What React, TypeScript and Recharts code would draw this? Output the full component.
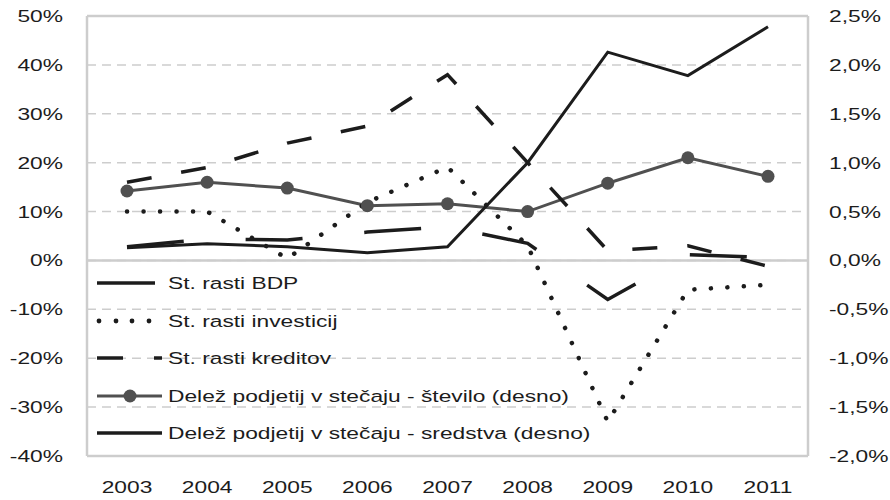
import { LineChart, Line, XAxis, YAxis, CartesianGrid, ReferenceLine } from "recharts";

const years = ["2003", "2004", "2005", "2006", "2007", "2008", "2009", "2010", "2011"];
// left axis (%)
const rastBdp = [2.8, 4.4, 4.2, 5.8, 6.9, 3.5, -8.0, 1.2, 0.6];
const rastInvesticij = [10, 10, 0.4, 11.9, 19.1, 3.0, -33, -6, -5];
const rastKreditov = [16, 19, 24, 27.5, 38, 20, 2, 3, -1.2];
// right axis (%)
const stecajStevilo = [0.71, 0.8, 0.74, 0.56, 0.58, 0.5, 0.79, 1.05, 0.86];
const stecajSredstva = [0.13, 0.17, 0.14, 0.08, 0.14, 1.0, 2.13, 1.89, 2.39];

const leftTicks = [-40, -30, -20, -10, 0, 10, 20, 30, 40, 50];
const rightTicks = [-2, -1.5, -1, -0.5, 0, 0.5, 1, 1.5, 2, 2.5];

const legendLabels = [
  "St. rasti BDP",
  "St. rasti investicij",
  "St. rasti kreditov",
  "Delež podjetij v stečaju - število (desno)",
  "Delež podjetij v stečaju - sredstva (desno)",
];

const data = years.map((year, i) => ({
  year,
  bdp: rastBdp[i],
  inv: rastInvesticij[i],
  kred: rastKreditov[i],
  stevilo: stecajStevilo[i],
  sredstva: stecajSredstva[i],
}));

const FONT = '"Liberation Sans", Arial, sans-serif';
const SX = 1.34;
const INK = "#1c1c1c";
const GREY = "#505050";
const FRAME = "#cdcdcd";

const fmtLeft = (v: number) => `${v}%`;
const fmtRight = (v: number) => `${v.toFixed(1).replace(".", ",")}%`;

function StretchTick(props: any) {
  const { x, y, payload, textAnchor, fmt, dy } = props;
  const label = fmt ? fmt(payload.value) : payload.value;
  return (
    <text
      transform={`translate(${x},${y}) scale(${SX},1)`}
      textAnchor={textAnchor}
      dy={dy}
      fontSize={17}
      fontFamily={FONT}
      fill={INK}
    >
      {label}
    </text>
  );
}

function LegendOverlay() {
  const rows = [283, 321, 358, 396, 433];
  const textX = 168;
  return (
    <svg width={890} height={500} style={{ position: "absolute", left: 0, top: 0, pointerEvents: "none" }}>
      <line x1={97} x2={155} y1={rows[0]} y2={rows[0]} stroke={INK} strokeWidth={3.5} />
      {[99, 116, 132, 149].map((cx) => (
        <circle key={cx} cx={cx} cy={rows[1]} r={2.4} fill={INK} />
      ))}
      <line x1={97} x2={123} y1={rows[2]} y2={rows[2]} stroke={INK} strokeWidth={3.5} />
      <line x1={154} x2={162} y1={rows[2]} y2={rows[2]} stroke={INK} strokeWidth={3.5} />
      <line x1={97} x2={162} y1={rows[3]} y2={rows[3]} stroke={GREY} strokeWidth={3} />
      <circle cx={130} cy={rows[3]} r={6.5} fill={GREY} />
      <line x1={97} x2={162} y1={rows[4]} y2={rows[4]} stroke={INK} strokeWidth={3.5} />
      {legendLabels.map((label, i) => (
        <text
          key={label}
          transform={`translate(${textX},${rows[i]}) scale(${SX},1)`}
          dy="0.35em"
          fontSize={17}
          fontFamily={FONT}
          fill={INK}
        >
          {label}
        </text>
      ))}
    </svg>
  );
}

export default function App() {
  return (
    <div style={{ position: "absolute", left: 0, top: 0, width: 890, height: 500, background: "#fff" }}>
      <LineChart width={890} height={500} data={data} margin={{ top: 16, right: 0, bottom: 0, left: 0 }}>
        <CartesianGrid yAxisId="left" vertical={false} stroke={FRAME} strokeWidth={1.5} strokeDasharray="9 6" />
        <XAxis
          dataKey="year"
          padding={{ left: 40, right: 40 }}
          height={44}
          interval={0}
          tickLine={false}
          tickMargin={19}
          axisLine={{ stroke: FRAME, strokeWidth: 2.5 }}
          tick={<StretchTick dy="0.71em" />}
        />
        <YAxis
          yAxisId="left"
          domain={[-40, 50]}
          ticks={leftTicks}
          width={87}
          tickLine={false}
          tickMargin={18}
          axisLine={{ stroke: FRAME, strokeWidth: 2.5 }}
          tick={<StretchTick fmt={fmtLeft} dy="0.35em" />}
        />
        <YAxis
          yAxisId="right"
          orientation="right"
          domain={[-2, 2.5]}
          ticks={rightTicks}
          width={82}
          tickLine={false}
          tickMargin={15}
          axisLine={{ stroke: FRAME, strokeWidth: 2.5 }}
          tick={<StretchTick fmt={fmtRight} dy="0.35em" />}
        />
        <ReferenceLine yAxisId="left" y={0} stroke={FRAME} strokeWidth={2.5} />
        <ReferenceLine yAxisId="left" y={50} stroke={FRAME} strokeWidth={2.5} />
        <Line
          yAxisId="right"
          dataKey="stevilo"
          stroke={GREY}
          strokeWidth={3}
          dot={{ r: 6.5, fill: GREY, stroke: GREY, strokeWidth: 0 }}
          isAnimationActive={false}
        />
        <Line
          yAxisId="left"
          dataKey="inv"
          stroke={INK}
          strokeWidth={4.5}
          strokeDasharray="0.1 16.4"
          strokeLinecap="round"
          dot={false}
          isAnimationActive={false}
        />
        <Line
          yAxisId="left"
          dataKey="kred"
          stroke={INK}
          strokeWidth={3.5}
          strokeDasharray="25 30"
          dot={false}
          isAnimationActive={false}
        />
        <Line
          yAxisId="left"
          dataKey="bdp"
          stroke={INK}
          strokeWidth={3.5}
          strokeDasharray="57 62"
          dot={false}
          isAnimationActive={false}
        />
        <Line
          yAxisId="right"
          dataKey="sredstva"
          stroke={INK}
          strokeWidth={3}
          dot={false}
          isAnimationActive={false}
        />
      </LineChart>
      <LegendOverlay />
    </div>
  );
}
